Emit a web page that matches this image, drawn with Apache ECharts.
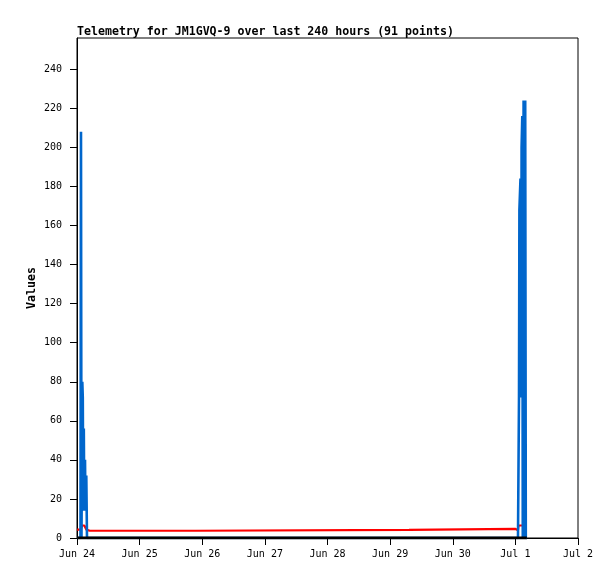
<!DOCTYPE html>
<html>
<head>
<meta charset="utf-8">
<script src="https://cdn.jsdelivr.net/npm/echarts@6/dist/echarts.min.js"></script>
<style>
html,body{margin:0;padding:0;background:#fff;}
#chart{width:615px;height:579px;}
</style>
</head>
<body>
<div id="chart"></div>
<script>
// hours since Jun 24 00:00
var hours = [0.05, 1.34, 1.53, 1.72, 2.03, 2.22, 2.41, 2.61, 2.80, 3.07, 3.26, 3.56, 3.83, 4.9,
  45.5, 45.8, 127.2, 127.5, 167.9, 168.06, 169.0, 169.2, 169.39, 169.54, 169.96, 170.27, 170.38,
  170.65, 170.84, 171.15, 171.54, 171.77, 172.0, 172.4];
var blueValues = [0, 0, 208, 0, 80, 72, 14, 56, 14, 40, 14, 32, 0, 0,
  0, 0, 0, 0, 0, 0, 0, 0, 72, 168, 184, 72, 200,
  216, 0, 224, 0, 224, 0, 0];
var redValues = [4.3, 4.3, 4.3, 4.3, 6.4, 6.4, 6.4, 6.4, 6.4, 6.4, 6.4, 4.3, 4.3, 3.7,
  3.7, 4.2, 4.2, 4.7, 4.7, 4.0, 4.0, 6.4, 6.4, 6.4, 6.4, 6.4, 6.4,
  6.4, 6.4, 6.4, 4.2, 4.2, 4.2, 4.2];
var blackValues = [0, 0, 0, 0, 0, 0, 0, 0, 0, 0, 0, 0, 0, 0,
  0, 0, 0, 0, 0, 0, 0, 0, 0, 0, 0, 0, 0,
  0, 0, 0, 0, 0, 0, 0];
var xTickHours = [0, 24, 48, 72, 96, 120, 144, 168, 192];
var xTickLabels = ["Jun 24", "Jun 25", "Jun 26", "Jun 27", "Jun 28", "Jun 29", "Jun 30", "Jul 1", "Jul 2"];
var yTicks = [0, 20, 40, 60, 80, 100, 120, 140, 160, 180, 200, 220, 240];
var titleText = "Telemetry for JM1GVQ-9 over last 240 hours (91 points)";

function pairs(vals) {
  return hours.map(function (h, i) { return [h, vals[i]]; });
}

var chart = echarts.init(document.getElementById('chart'), null, {renderer: 'canvas'});
var mono = 'DejaVu Sans Mono';
chart.setOption({
  animation: false,
  backgroundColor: '#fff',
  title: {
    text: titleText,
    left: 77, top: 26, padding: 0,
    textStyle: {fontFamily: mono, fontWeight: 'bold', fontSize: 11.6, color: '#000'}
  },
  grid: {left: 77, right: 37, top: 38, bottom: 41, show: true, borderColor: '#000', borderWidth: 1, backgroundColor: 'transparent'},
  xAxis: {
    type: 'value', min: 0, max: 192, interval: 24,
    axisLine: {show: true, lineStyle: {color: '#000', width: 1}},
    axisTick: {show: true, length: 7, lineStyle: {color: '#000'}, customValues: xTickHours},
    axisLabel: {
      customValues: xTickHours,
      margin: 11, fontFamily: mono, fontSize: 10, color: '#000',
      formatter: function (v) { var i = xTickHours.indexOf(v); return i >= 0 ? xTickLabels[i] : ''; }
    },
    splitLine: {show: false}
  },
  yAxis: {
    type: 'value', min: 0, max: 256, interval: 20,
    name: 'Values', nameLocation: 'middle', nameGap: 39, nameRotate: 90, nameMoveOverlap: false,
    nameTextStyle: {fontFamily: mono, fontWeight: 'bold', fontSize: 11.6, color: '#000'},
    axisLine: {show: true, lineStyle: {color: '#000', width: 1}},
    axisTick: {show: true, length: 7, lineStyle: {color: '#000'}, customValues: yTicks},
    axisLabel: {customValues: yTicks, margin: 15, fontFamily: mono, fontSize: 10, color: '#000'},
    splitLine: {show: false}
  },
  series: [
    {type: 'line', data: pairs(redValues), showSymbol: false, symbol: 'none', lineStyle: {color: '#ff0000', width: 2.2}, z: 2},
    {type: 'line', data: pairs(blueValues), showSymbol: false, symbol: 'none', lineStyle: {color: '#0066cc', width: 2.6}, z: 3},
    {type: 'line', data: pairs(blackValues), showSymbol: false, symbol: 'none', lineStyle: {color: '#000000', width: 3.2}, z: 4}
  ]
});
</script>
</body>
</html>
